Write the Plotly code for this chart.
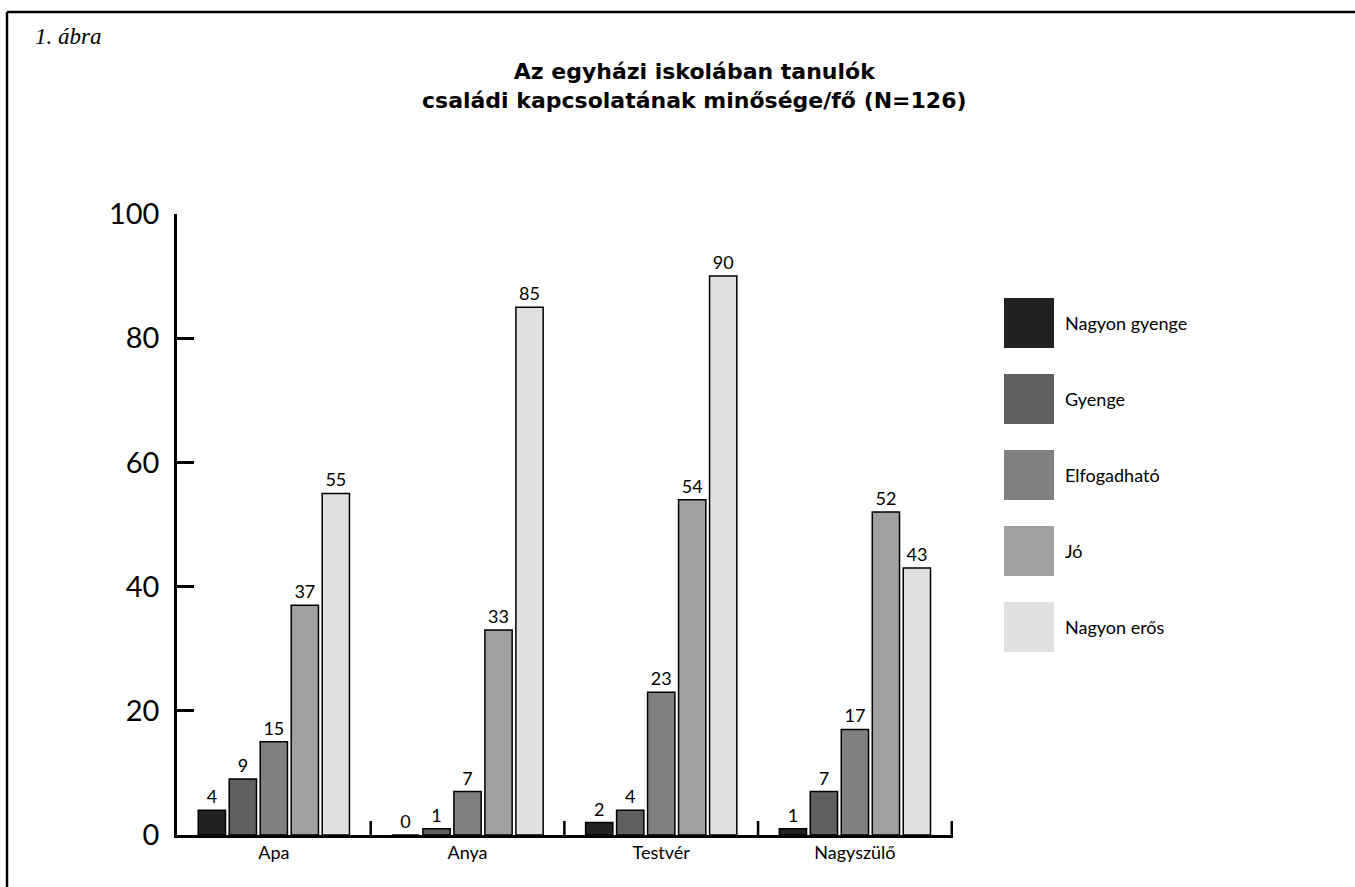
import plotly.graph_objects as go

categories = ["Apa", "Anya", "Testvér", "Nagyszülő"]
series_names = ["Nagyon gyenge", "Gyenge", "Elfogadható", "Jó", "Nagyon erős"]
nagyon_gyenge = [4, 0, 2, 1]
gyenge = [9, 1, 4, 7]
elfogadhato = [15, 7, 23, 17]
jo = [37, 33, 54, 52]
nagyon_eros = [55, 85, 90, 43]
series_values = [nagyon_gyenge, gyenge, elfogadhato, jo, nagyon_eros]
colors = ["#222222", "#5f5f5f", "#808080", "#a0a0a0", "#e0e0e0"]
y_ticks = [0, 20, 40, 60, 80, 100]

FONT = "Lato, 'Noto Sans', sans-serif"
TITLE_FONT = "'DejaVu Sans', sans-serif"

fig = go.Figure()
for name, vals, col in zip(series_names, series_values, colors):
    fig.add_trace(go.Bar(
        x=categories, y=vals, name=name,
        marker=dict(color=col, line=dict(color="black", width=1.5)),
        text=[str(v) for v in vals], textposition="outside",
        textfont=dict(size=18, color="black", family=FONT),
        cliponaxis=False, showlegend=False,
    ))

W, H = 1355, 887
L, R, T, B = 177, 402, 214, 52
PW, PH = W - L - R, H - T - B

fig.update_layout(
    width=W, height=H,
    margin=dict(l=L, r=R, t=T, b=B),
    paper_bgcolor="white", plot_bgcolor="white",
    barmode="group", bargap=0.2, bargroupgap=0.12,
    font=dict(family=FONT, color="black"),
    xaxis=dict(
        showline=True, linecolor="black", linewidth=2.5,
        ticks="", 
        tickfont=dict(size=18, family=FONT, color="black"),
        showgrid=False, zeroline=False,
    ),
    yaxis=dict(
        range=[0, 100], tickvals=y_ticks,
        showline=True, linecolor="black", linewidth=2.5,
        ticks="inside", ticklen=17, tickwidth=2.5, tickcolor="black",
        tickfont=dict(size=29, family=FONT, color="black"),
        ticklabelstandoff=9,
        showgrid=False, zeroline=False,
    ),
)


def px_x(p):
    return (p - L) / PW


def px_y(p):
    return (H - B - p) / PH


shapes = []
annotations = []

# Category boundary ticks on the x axis (upward, inside)
for i in range(len(categories)):
    shapes.append(dict(type="line", xref="x", yref="paper",
                       x0=i + 0.5, x1=i + 0.5, y0=0, y1=14 / PH,
                       line=dict(color="black", width=2.5)))

# Frame (top and left edges visible)
shapes.append(dict(type="line", xref="paper", yref="paper",
                   x0=px_x(7), x1=px_x(1358), y0=px_y(12), y1=px_y(12),
                   line=dict(color="black", width=2.5)))
shapes.append(dict(type="line", xref="paper", yref="paper",
                   x0=px_x(7), x1=px_x(7), y0=px_y(12), y1=px_y(890),
                   line=dict(color="black", width=2.5)))

# Custom legend with large swatches
for i, (name, col) in enumerate(zip(series_names, colors)):
    top = 298 + i * 76
    shapes.append(dict(type="rect", xref="paper", yref="paper",
                       x0=px_x(1004), x1=px_x(1054), y0=px_y(top + 50), y1=px_y(top),
                       fillcolor=col, line=dict(width=0)))
    annotations.append(dict(xref="paper", yref="paper", x=px_x(1063), y=px_y(top + 25),
                            text=name, showarrow=False, xanchor="left", yanchor="middle",
                            font=dict(size=18, family=FONT, color="black")))

# Figure label
annotations.append(dict(xref="paper", yref="paper", x=px_x(33), y=px_y(36),
                        text="<i>1. ábra</i>", showarrow=False, xanchor="left", yanchor="middle",
                        font=dict(size=23, family="'Liberation Serif', serif", color="black")))

# Title
annotations.append(dict(xref="paper", yref="paper", x=px_x(694), y=px_y(86),
                        text="<b>Az egyházi iskolában tanulók<br>családi kapcsolatának minősége/fő (N=126)</b>",
                        showarrow=False, xanchor="center", yanchor="middle", align="center",
                        font=dict(size=22, family=TITLE_FONT, color="black")))

fig.update_layout(shapes=shapes, annotations=annotations)

fig.write_html("out.html")
